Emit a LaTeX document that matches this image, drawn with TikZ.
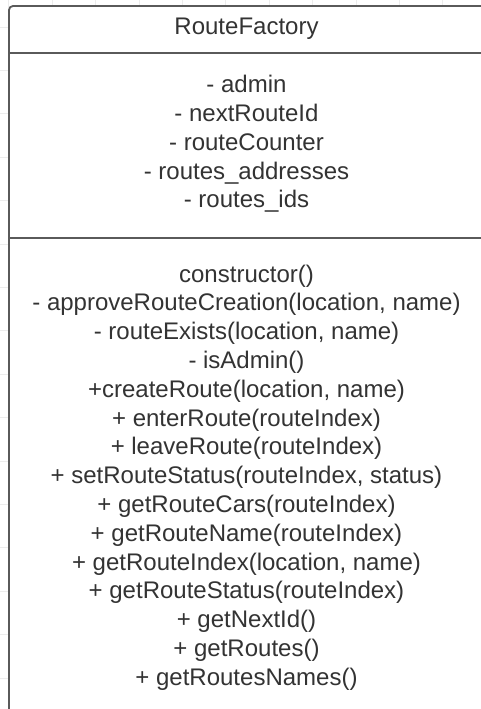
\documentclass[tikz,border=0pt]{standalone}
\usepackage{fontspec}
\setmainfont{Liberation Sans}
\definecolor{txtc}{HTML}{333333}
\definecolor{edgec}{HTML}{5A5A5A}
\definecolor{gridc}{HTML}{ECECEC}
\begin{document}
\begin{tikzpicture}[x=1pt,y=-1pt,
  txtline/.style={anchor=base, inner sep=0pt, text=txtc, font=\fontsize{24}{28.8}\selectfont},
  gridline/.style={draw=gridc, line width=0.7pt},
  classedge/.style={draw=edgec, line width=1.8pt}]
\useasboundingbox (0,0) rectangle (480,709);
% faint background grid
\foreach \k in {0,...,11} {
  \draw[gridline] ({8.8+43.4*\k},0) -- ({8.8+43.4*\k},709);
}
\foreach \k in {0,...,15} {
  \draw[gridline] (0,{27+43.4*\k}) -- (480,{27+43.4*\k});
}
% class box
\path[fill=white, classedge, rounded corners=4pt] (9,730) |- (498,6) -- (498,730);
\draw[classedge] (9,53) -- (498,53);
\draw[classedge] (9,238) -- (498,238);
% title
\node[txtline] (title) at (246.5,34.3) {RouteFactory};
% attributes
\foreach \t [count=\i from 0] in {- admin, - nextRouteId, - routeCounter, - routes\_addresses, - routes\_ids} {
  \node[txtline] (a\i) at (246.5,{92.7+28.8*\i}) {\t};
}
% methods
\foreach \t [count=\i from 0] in {constructor(), {- approveRouteCreation(location, name)}, {- routeExists(location, name)}, - isAdmin(), {+createRoute(location, name)}, + enterRoute(routeIndex), + leaveRoute(routeIndex), {+ setRouteStatus(routeIndex, status)}, + getRouteCars(routeIndex), + getRouteName(routeIndex), {+ getRouteIndex(location, name)}, + getRouteStatus(routeIndex), + getNextId(), + getRoutes(), + getRoutesNames()} {
  \node[txtline] (m\i) at (246.5,{282+28.8*\i}) {\t};
}
\end{tikzpicture}
\end{document}
